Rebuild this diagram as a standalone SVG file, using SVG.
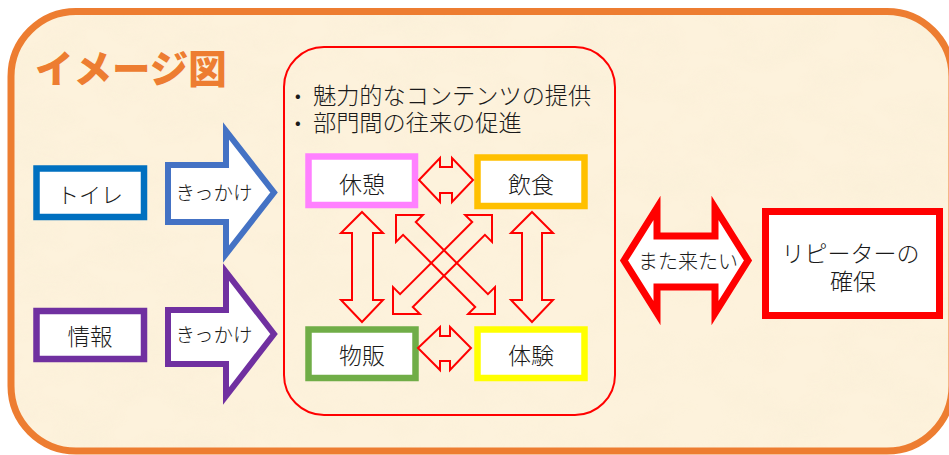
<svg xmlns="http://www.w3.org/2000/svg" width="949" height="455" viewBox="0 0 949 455">
  <style>
    .t { font-family: "Noto Sans CJK JP", "Noto Sans", sans-serif; font-weight: 300; fill: #1a1a1a; text-anchor: middle; dominant-baseline: central; }
    .box { fill: #ffffff; }
    .thin { fill: none; stroke: #ff0000; stroke-width: 2; stroke-linejoin: miter; }
  </style>
  <defs>
    <clipPath id="frameClip">
      <rect x="11" y="11.5" width="941" height="439.5" rx="65" ry="65"/>
    </clipPath>
    <filter id="tex" x="0" y="0" width="100%" height="100%" filterUnits="objectBoundingBox">
      <feTurbulence type="fractalNoise" baseFrequency="0.018 0.03" numOctaves="3" seed="7" result="n"/>
      <feColorMatrix in="n" type="matrix" values="0 0 0 0 0.94  0 0 0 0 0.85  0 0 0 0 0.66  1.6 0 0 0 -0.62"/>
    </filter>
  </defs>

  <rect x="0" y="0" width="949" height="455" fill="#ffffff"/>

  <!-- frame -->
  <g id="frame">
    <rect x="11" y="11.5" width="941" height="439.5" rx="65" ry="65" fill="#fdf2dc"/>
    <g clip-path="url(#frameClip)">
      <rect x="11" y="11.5" width="941" height="440" filter="url(#tex)" opacity="0.4"/>
    </g>
    <rect x="11" y="11.5" width="941" height="439.5" rx="65" ry="65" fill="none" stroke="#ed7d31" stroke-width="7"/>
    <text x="35" y="83" font-family="'Noto Sans CJK JP', sans-serif" font-weight="900" font-size="38.5" fill="#ed7d31">イメージ図</text>
  </g>

  <!-- central area -->
  <g id="area">
    <rect x="284" y="47" width="331" height="368" rx="40" ry="40" fill="none" stroke="#ff0000" stroke-width="2"/>
    <text class="t" font-size="23.2" style="text-anchor:start">
      <tspan x="295" y="94" font-size="15" font-weight="700">•</tspan><tspan x="313" y="94">魅力的なコンテンツの提供</tspan>
      <tspan x="295" y="121" font-size="15" font-weight="700">•</tspan><tspan x="313" y="121">部門間の往来の促進</tspan>
    </text>
  </g>

  <g id="toilet">
    <rect class="box" x="36.5" y="168.5" width="107.5" height="48.5" stroke="#0070c0" stroke-width="6.5"/>
    <text class="t" x="90" y="193" font-size="22">トイレ</text>
  </g>
  <g id="info">
    <rect class="box" x="36.5" y="311" width="107.5" height="48" stroke="#7030a0" stroke-width="6.5"/>
    <text class="t" x="90" y="335" font-size="22.5">情報</text>
  </g>

  <g id="rest">
    <rect class="box" x="308.5" y="156.5" width="106.5" height="48.5" stroke="#ff80ff" stroke-width="6.5"/>
    <text class="t" x="362" y="183" font-size="23">休憩</text>
  </g>
  <g id="food">
    <rect class="box" x="477.5" y="157.5" width="107" height="48.5" stroke="#ffc000" stroke-width="6.5"/>
    <text class="t" x="531" y="183" font-size="23">飲食</text>
  </g>
  <g id="shop">
    <rect class="box" x="308.5" y="329.5" width="107" height="48.5" stroke="#70ad47" stroke-width="6.5"/>
    <text class="t" x="362" y="354" font-size="23">物販</text>
  </g>
  <g id="experience">
    <rect class="box" x="477.5" y="329.5" width="107" height="48.5" stroke="#ffff00" stroke-width="6.5"/>
    <text class="t" x="531" y="354" font-size="23">体験</text>
  </g>

  <g id="repeater">
    <rect class="box" x="765.5" y="211.5" width="174" height="104" stroke="#ff0000" stroke-width="7"/>
    <text class="t" font-size="23">
      <tspan x="853" y="252">リピーターの</tspan>
      <tspan x="853" y="280">確保</tspan>
    </text>
  </g>

  <!-- connectors -->
  <g id="connectors">
    <g id="arrow-toilet">
      <path d="M168,165 L226,165 L226,131 L274,192.5 L226,254 L226,222 L168,222 Z" fill="#ffffff" stroke="#4472c4" stroke-width="6" stroke-linejoin="miter"/>
      <text class="t" x="214" y="191" font-size="19.5">きっかけ</text>
    </g>
    <g id="arrow-info">
      <path d="M168,310 L226,310 L226,272 L274,334 L226,396 L226,364 L168,364 Z" fill="#ffffff" stroke="#7030a0" stroke-width="6" stroke-linejoin="miter"/>
      <text class="t" x="214" y="333" font-size="19.5">きっかけ</text>
    </g>

    <path class="thin" d="M419,180 L440,158 L440,167 L452,167 L452,158 L473,180 L452,202 L452,193 L440,193 L440,202 Z"/>
    <path class="thin" d="M418,348 L440,327 L440,336 L450,336 L450,327 L471,348 L450,370 L450,361 L440,361 L440,370 Z"/>

    <path class="thin" d="M362,212 L383,233 L373,233 L373,300 L383,300 L362,322 L341,300 L352,300 L352,233 L341,233 Z"/>
    <path class="thin" d="M532,212 L553,233 L542,233 L542,300 L553,300 L532,322 L511,300 L522,300 L522,233 L511,233 Z"/>

    <path class="thin" transform="translate(396,215) rotate(45)" d="M0,0 L19,-19 L19,-9 L121,-9 L121,-19 L140,0 L121,19 L121,9 L19,9 L19,19 Z"/>
    <path class="thin" transform="translate(492,215) rotate(135)" d="M0,0 L19,-19 L19,-9 L121,-9 L121,-19 L140,0 L121,19 L121,9 L19,9 L19,19 Z"/>

    <g id="arrow-again">
      <path d="M624,260.5 L657,208 L657,236 L715,236 L715,208 L748,260.5 L715,313 L715,287 L657,287 L657,313 Z" fill="#ffffff" stroke="#ff0000" stroke-width="7" stroke-linejoin="miter"/>
      <text class="t" x="688" y="260" font-size="20">また来たい</text>
    </g>
  </g>
</svg>
